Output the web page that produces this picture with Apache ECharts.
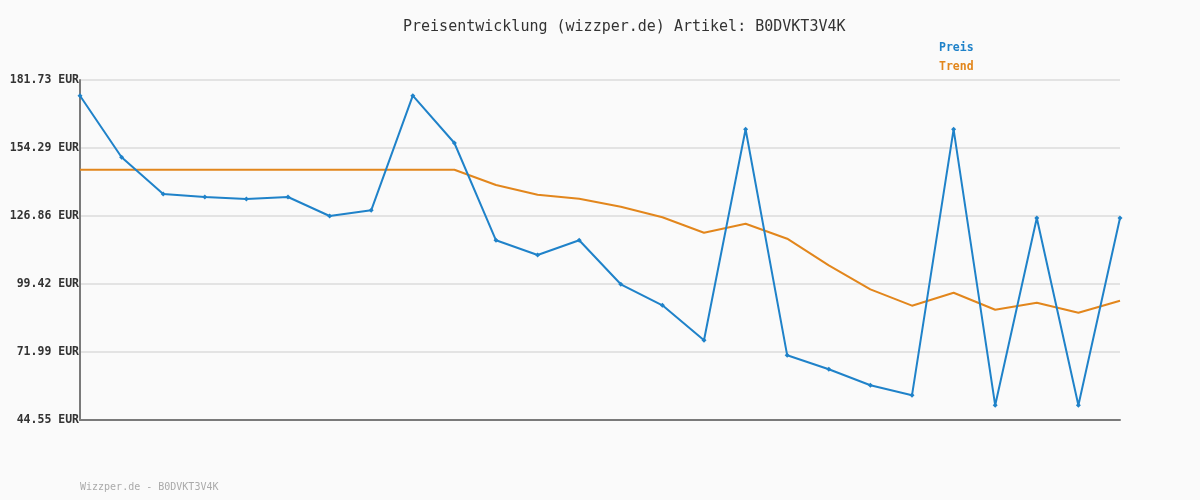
<!DOCTYPE html>
<html><head><meta charset="utf-8">
<script src="https://cdn.jsdelivr.net/npm/echarts@6/dist/echarts.min.js"></script>
<style>html,body{margin:0;padding:0;background:#fafafa}#c{width:1200px;height:500px}</style>
</head><body><div id="c"></div>
<script>
const categories = ['1','2','3','4','5','6','7','8','9','10','11','12','13','14','15','16','17','18','19','20','21','22','23','24','25','26'];
const preis = [175.40,150.54,135.73,134.52,133.72,134.52,126.86,129.16,175.40,156.31,117.05,111.12,117.05,99.30,90.83,76.71,161.84,70.65,65.01,58.55,54.52,161.84,50.48,126.05,50.48,126.05];
const trend = [145.54,145.54,145.54,145.54,145.54,145.54,145.54,145.54,145.54,145.54,139.37,135.45,133.84,130.61,126.33,120.12,123.75,117.70,106.97,97.28,90.67,95.91,89.05,91.88,87.84,92.68];
const yTicks = [44.55,71.99,99.42,126.86,154.29,181.73];
const titleText = 'Preisentwicklung (wizzper.de) Artikel: B0DVKT3V4K';
const footerText = 'Wizzper.de - B0DVKT3V4K';
const mono = '"DejaVu Sans Mono", "Liberation Mono", monospace';
const blue = '#1f82c9', orange = '#e2861c';
const chart = echarts.init(document.getElementById('c'), null, {renderer:'canvas'});
chart.setOption({
  backgroundColor:'#fafafa',
  animation:false,
  title:{text:titleText,left:403,top:20,padding:0,textStyle:{fontFamily:mono,fontSize:15,fontWeight:'normal',color:'#333'}},
  legend:{orient:'vertical',left:934,top:41,padding:0,itemWidth:0,itemHeight:14,itemGap:6,
    data:[{name:'Preis',icon:'none',textStyle:{color:blue}},{name:'Trend',icon:'none',textStyle:{color:orange}}],
    textStyle:{fontFamily:mono,fontSize:11.5,fontWeight:'bold'}},
  graphic:[{type:'text',left:80,top:482,style:{text:footerText,fontFamily:mono,fontSize:10,fill:'#aaa'}}],
  grid:{left:80,right:80,top:80,bottom:80,containLabel:false},
  xAxis:{type:'category',data:categories,boundaryGap:false,
    axisLine:{lineStyle:{color:'#7a7a7a',width:2}},axisTick:{show:false},axisLabel:{show:false},splitLine:{show:false}},
  yAxis:{type:'value',min:yTicks[0],max:yTicks[yTicks.length-1],
    axisLine:{show:true,lineStyle:{color:'#7a7a7a',width:2}},
    axisTick:{show:false,customValues:yTicks},
    splitLine:{show:true,lineStyle:{color:'#e3e3e3',width:2}},
    axisLabel:{customValues:yTicks,formatter:v=>v.toFixed(2)+' EUR',margin:1,fontFamily:mono,fontSize:11.5,fontWeight:'bold',color:'#333'}},
  series:[
    {name:'Preis',type:'line',data:preis,color:blue,lineStyle:{width:2,color:blue},symbol:'diamond',symbolSize:5,itemStyle:{color:blue},z:3},
    {name:'Trend',type:'line',data:trend,color:orange,lineStyle:{width:2,color:orange},symbol:'none',z:2}
  ]
});
</script></body></html>
